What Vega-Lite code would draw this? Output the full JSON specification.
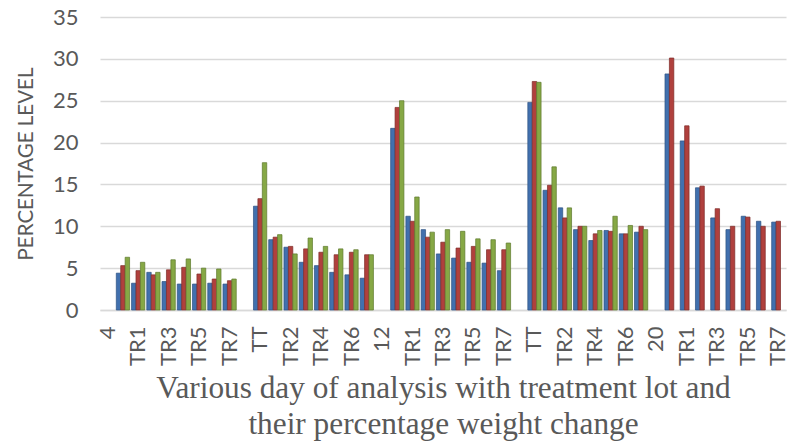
{
  "$schema": "https://vega.github.io/schema/vega-lite/v6.json",
  "width": 686,
  "height": 293,
  "padding": {"left": 16, "top": 6, "right": 10, "bottom": 2},
  "background": "#ffffff",
  "config": {"view": {"stroke": null}},
  "data": {"values": [
    {"cat": "4 TT", "series": "Series1", "value": 4.4}, {"cat": "4 TT", "series": "Series2", "value": 5.3}, {"cat": "4 TT", "series": "Series3", "value": 6.3},
    {"cat": "4 TR1", "series": "Series1", "value": 3.2}, {"cat": "4 TR1", "series": "Series2", "value": 4.7}, {"cat": "4 TR1", "series": "Series3", "value": 5.7},
    {"cat": "4 TR2", "series": "Series1", "value": 4.5}, {"cat": "4 TR2", "series": "Series2", "value": 4.2}, {"cat": "4 TR2", "series": "Series3", "value": 4.5},
    {"cat": "4 TR3", "series": "Series1", "value": 3.4}, {"cat": "4 TR3", "series": "Series2", "value": 4.8}, {"cat": "4 TR3", "series": "Series3", "value": 6.0},
    {"cat": "4 TR4", "series": "Series1", "value": 3.1}, {"cat": "4 TR4", "series": "Series2", "value": 5.1}, {"cat": "4 TR4", "series": "Series3", "value": 6.1},
    {"cat": "4 TR5", "series": "Series1", "value": 3.1}, {"cat": "4 TR5", "series": "Series2", "value": 4.3}, {"cat": "4 TR5", "series": "Series3", "value": 5.0},
    {"cat": "4 TR6", "series": "Series1", "value": 3.2}, {"cat": "4 TR6", "series": "Series2", "value": 3.7}, {"cat": "4 TR6", "series": "Series3", "value": 4.9},
    {"cat": "4 TR7", "series": "Series1", "value": 3.1}, {"cat": "4 TR7", "series": "Series2", "value": 3.5}, {"cat": "4 TR7", "series": "Series3", "value": 3.7},
    {"cat": "8 TT", "series": "Series1", "value": 12.4}, {"cat": "8 TT", "series": "Series2", "value": 13.3}, {"cat": "8 TT", "series": "Series3", "value": 17.6},
    {"cat": "8 TR1", "series": "Series1", "value": 8.4}, {"cat": "8 TR1", "series": "Series2", "value": 8.7}, {"cat": "8 TR1", "series": "Series3", "value": 9.0},
    {"cat": "8 TR2", "series": "Series1", "value": 7.5}, {"cat": "8 TR2", "series": "Series2", "value": 7.6}, {"cat": "8 TR2", "series": "Series3", "value": 6.7},
    {"cat": "8 TR3", "series": "Series1", "value": 5.7}, {"cat": "8 TR3", "series": "Series2", "value": 7.3}, {"cat": "8 TR3", "series": "Series3", "value": 8.6},
    {"cat": "8 TR4", "series": "Series1", "value": 5.3}, {"cat": "8 TR4", "series": "Series2", "value": 6.9}, {"cat": "8 TR4", "series": "Series3", "value": 7.6},
    {"cat": "8 TR5", "series": "Series1", "value": 4.5}, {"cat": "8 TR5", "series": "Series2", "value": 6.6}, {"cat": "8 TR5", "series": "Series3", "value": 7.3},
    {"cat": "8 TR6", "series": "Series1", "value": 4.2}, {"cat": "8 TR6", "series": "Series2", "value": 6.9}, {"cat": "8 TR6", "series": "Series3", "value": 7.2},
    {"cat": "8 TR7", "series": "Series1", "value": 3.8}, {"cat": "8 TR7", "series": "Series2", "value": 6.6}, {"cat": "8 TR7", "series": "Series3", "value": 6.6},
    {"cat": "12 TT", "series": "Series1", "value": 21.7}, {"cat": "12 TT", "series": "Series2", "value": 24.2}, {"cat": "12 TT", "series": "Series3", "value": 25.0},
    {"cat": "12 TR1", "series": "Series1", "value": 11.2}, {"cat": "12 TR1", "series": "Series2", "value": 10.6}, {"cat": "12 TR1", "series": "Series3", "value": 13.5},
    {"cat": "12 TR2", "series": "Series1", "value": 9.6}, {"cat": "12 TR2", "series": "Series2", "value": 8.7}, {"cat": "12 TR2", "series": "Series3", "value": 9.3},
    {"cat": "12 TR3", "series": "Series1", "value": 6.7}, {"cat": "12 TR3", "series": "Series2", "value": 8.1}, {"cat": "12 TR3", "series": "Series3", "value": 9.6},
    {"cat": "12 TR4", "series": "Series1", "value": 6.2}, {"cat": "12 TR4", "series": "Series2", "value": 7.4}, {"cat": "12 TR4", "series": "Series3", "value": 9.4},
    {"cat": "12 TR5", "series": "Series1", "value": 5.7}, {"cat": "12 TR5", "series": "Series2", "value": 7.6}, {"cat": "12 TR5", "series": "Series3", "value": 8.5},
    {"cat": "12 TR6", "series": "Series1", "value": 5.6}, {"cat": "12 TR6", "series": "Series2", "value": 7.2}, {"cat": "12 TR6", "series": "Series3", "value": 8.4},
    {"cat": "12 TR7", "series": "Series1", "value": 4.7}, {"cat": "12 TR7", "series": "Series2", "value": 7.2}, {"cat": "12 TR7", "series": "Series3", "value": 8.0},
    {"cat": "16 TT", "series": "Series1", "value": 24.8}, {"cat": "16 TT", "series": "Series2", "value": 27.3}, {"cat": "16 TT", "series": "Series3", "value": 27.2},
    {"cat": "16 TR1", "series": "Series1", "value": 14.3}, {"cat": "16 TR1", "series": "Series2", "value": 14.9}, {"cat": "16 TR1", "series": "Series3", "value": 17.1},
    {"cat": "16 TR2", "series": "Series1", "value": 12.2}, {"cat": "16 TR2", "series": "Series2", "value": 11.0}, {"cat": "16 TR2", "series": "Series3", "value": 12.2},
    {"cat": "16 TR3", "series": "Series1", "value": 9.6}, {"cat": "16 TR3", "series": "Series2", "value": 10.0}, {"cat": "16 TR3", "series": "Series3", "value": 10.0},
    {"cat": "16 TR4", "series": "Series1", "value": 8.3}, {"cat": "16 TR4", "series": "Series2", "value": 9.1}, {"cat": "16 TR4", "series": "Series3", "value": 9.5},
    {"cat": "16 TR5", "series": "Series1", "value": 9.5}, {"cat": "16 TR5", "series": "Series2", "value": 9.4}, {"cat": "16 TR5", "series": "Series3", "value": 11.2},
    {"cat": "16 TR6", "series": "Series1", "value": 9.1}, {"cat": "16 TR6", "series": "Series2", "value": 9.1}, {"cat": "16 TR6", "series": "Series3", "value": 10.1},
    {"cat": "16 TR7", "series": "Series1", "value": 9.3}, {"cat": "16 TR7", "series": "Series2", "value": 10.0}, {"cat": "16 TR7", "series": "Series3", "value": 9.6},
    {"cat": "20 TT", "series": "Series1", "value": 28.2}, {"cat": "20 TT", "series": "Series2", "value": 30.1},
    {"cat": "20 TR1", "series": "Series1", "value": 20.2}, {"cat": "20 TR1", "series": "Series2", "value": 22.0},
    {"cat": "20 TR2", "series": "Series1", "value": 14.6}, {"cat": "20 TR2", "series": "Series2", "value": 14.8},
    {"cat": "20 TR3", "series": "Series1", "value": 11.0}, {"cat": "20 TR3", "series": "Series2", "value": 12.1},
    {"cat": "20 TR4", "series": "Series1", "value": 9.6}, {"cat": "20 TR4", "series": "Series2", "value": 10.0},
    {"cat": "20 TR5", "series": "Series1", "value": 11.2}, {"cat": "20 TR5", "series": "Series2", "value": 11.1},
    {"cat": "20 TR6", "series": "Series1", "value": 10.6}, {"cat": "20 TR6", "series": "Series2", "value": 10.0},
    {"cat": "20 TR7", "series": "Series1", "value": 10.5}, {"cat": "20 TR7", "series": "Series2", "value": 10.6}
  ]},
  "mark": {"type": "bar", "strokeWidth": 0.8, "strokeOpacity": 0.9},
  "encoding": {
    "x": {
      "field": "cat",
      "type": "nominal",
      "sort": null,
      "scale": {
        "domain": ["4", "4 TT", "4 TR1", "4 TR2", "4 TR3", "4 TR4", "4 TR5", "4 TR6", "4 TR7",
                   "8", "8 TT", "8 TR1", "8 TR2", "8 TR3", "8 TR4", "8 TR5", "8 TR6", "8 TR7",
                   "12", "12 TT", "12 TR1", "12 TR2", "12 TR3", "12 TR4", "12 TR5", "12 TR6", "12 TR7",
                   "16", "16 TT", "16 TR1", "16 TR2", "16 TR3", "16 TR4", "16 TR5", "16 TR6", "16 TR7",
                   "20", "20 TT", "20 TR1", "20 TR2", "20 TR3", "20 TR4", "20 TR5", "20 TR6", "20 TR7"],
        "paddingInner": 0.13,
        "paddingOuter": 0.07
      },
      "axis": {
        "values": ["4", "4 TR1", "4 TR3", "4 TR5", "4 TR7", "8 TT", "8 TR2", "8 TR4", "8 TR6",
                   "12", "12 TR1", "12 TR3", "12 TR5", "12 TR7", "16 TT", "16 TR2", "16 TR4", "16 TR6",
                   "20", "20 TR1", "20 TR3", "20 TR5", "20 TR7"],
        "labelExpr": "indexof(datum.value, ' ') >= 0 ? split(datum.value, ' ')[1] : datum.value",
        "labelAngle": -90,
        "labelFont": "Lato",
        "labelFontSize": 22,
        "labelColor": "#595959",
        "labelPadding": 16,
        "labelOverlap": false,
        "ticks": false,
        "domainColor": "#D9D9D9",
        "domainWidth": 1.5,
        "title": ["Various day of analysis with treatment lot and", "their percentage weight change"],
        "titleFont": "Liberation Serif",
        "titleFontSize": 31.3,
        "titleFontWeight": "normal",
        "titleColor": "#595959",
        "titleLineHeight": 36,
        "titlePadding": 7
      }
    },
    "xOffset": {"field": "series", "type": "nominal", "scale": {"domain": ["Series1", "Series2", "Series3"], "paddingInner": 0}},
    "y": {
      "field": "value",
      "type": "quantitative",
      "scale": {"domain": [0, 35], "nice": false},
      "axis": {
        "values": [0, 5, 10, 15, 20, 25, 30, 35],
        "title": "PERCENTAGE LEVEL",
        "titleFont": "Lato",
        "titleFontSize": 20.5,
        "titleFontWeight": "normal",
        "titleColor": "#595959",
        "titlePadding": 16,
        "labelFont": "Lato",
        "labelFontSize": 22,
        "labelColor": "#595959",
        "labelPadding": 22,
        "ticks": false,
        "domain": false,
        "gridColor": "#D9D9D9",
        "gridWidth": 1.5
      }
    },
    "color": {
      "field": "series",
      "type": "nominal",
      "scale": {"domain": ["Series1", "Series2", "Series3"], "range": ["#4170AE", "#B0403D", "#86A845"]},
      "legend": null
    },
    "stroke": {
      "field": "series",
      "type": "nominal",
      "scale": {"domain": ["Series1", "Series2", "Series3"], "range": ["#2E5283", "#7F2C2A", "#5F7A2E"]},
      "legend": null
    }
  }
}
